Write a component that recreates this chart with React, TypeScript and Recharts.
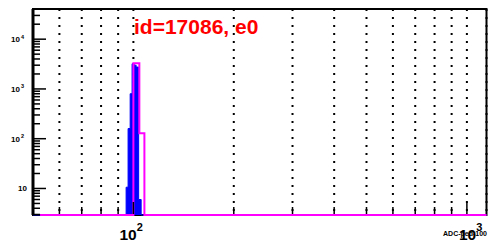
import React from 'react';
import {
  ComposedChart,
  Area,
  Line,
  XAxis,
  YAxis,
  CartesianGrid,
  ReferenceArea,
} from 'recharts';

// x range of the histogram frame (ADC - ped - 100, log axis)
const xRange = [50, 1145];
// y range of the frame (counts, log axis)
const yRange = [2.93, 40400];

// blue filled histogram: bin low edges and contents
const blueEdges = [50, 95.1, 96.4, 97.8, 99.1, 100.5, 101.9, 103.7, 105.5, 1145];
const blueCounts = [2.93, 10.6, 160, 800, 3200, 3000, 2750, 6, 2.93, 2.93];

// magenta outline histogram
const magentaEdges = [52.5, 100, 104.2, 107.9, 1145];
const magentaCounts = [2.93, 3300, 129, 2.93, 2.93];

const xTicks = [60, 70, 80, 90, 100, 200, 300, 400, 500, 600, 700, 800, 900, 1000];
const xLabels: { [k: number]: string } = { 100: '2', 1000: '3' };

const yTicks = [
  3, 4, 5, 6, 7, 8, 9,
  10, 20, 30, 40, 50, 60, 70, 80, 90,
  100, 200, 300, 400, 500, 600, 700, 800, 900,
  1000, 2000, 3000, 4000, 5000, 6000, 7000, 8000, 9000,
  10000, 20000, 30000, 40000,
];
const yLabels: { [k: number]: string } = { 10: '', 100: '2', 1000: '3', 10000: '4' };

const blueData = blueEdges.map((x, i) => ({ x, y: blueCounts[i] }));
const magentaData = magentaEdges.map((x, i) => ({ x, y: magentaCounts[i] }));

const FONT = '"Liberation Sans", Arial, Helvetica, sans-serif';

function YTick(props: any) {
  const { x, y, payload } = props;
  const v = payload.value;
  const major = v in yLabels;
  const len = major ? 13 : 7;
  return (
    <g>
      <line x1={x} x2={x + len} y1={y} y2={y} stroke="#000" strokeWidth={1.5} />
      {major && v === 10 && (
        <text x={27} y={y + 2.8} fontSize={8} fontWeight="bold" fontFamily={FONT} textAnchor="end" fill="#000">
          10
        </text>
      )}
      {major && v !== 10 && (
        <text x={20} y={y + 2.8} fontSize={8} fontWeight="bold" fontFamily={FONT} textAnchor="end" fill="#000">
          10
        </text>
      )}
      {major && v !== 10 && (
        <text x={21} y={y - 0.5} fontSize={5.5} fontWeight="bold" fontFamily={FONT} fill="#000">
          {yLabels[v]}
        </text>
      )}
    </g>
  );
}

function XTick(props: any) {
  const { x, y, payload } = props;
  const v = payload.value;
  const major = v in xLabels;
  const len = major ? 12 : 7;
  const shift = v === 1000 ? 6 : 0;
  return (
    <g>
      <line x1={x} x2={x} y1={y - 1} y2={y - 1 - len} stroke="#000" strokeWidth={1.5} />
      {major && (
        <text x={x + shift - 14} y={y + 25} fontSize={15.5} fontWeight="bold" fontFamily={FONT} fill="#000">
          10
          <tspan fontSize={11} dy={-9}>{xLabels[v]}</tspan>
        </text>
      )}
    </g>
  );
}

export default function App() {
  return (
    <div style={{ position: 'absolute', left: 0, top: 0, width: 489, height: 243, background: '#fff' }}>
      <ComposedChart
        width={489}
        height={243}
        margin={{ top: 9, right: 2.5, bottom: 0, left: 0 }}
      >
        <CartesianGrid
          horizontal={false}
          stroke="#000"
          strokeWidth={2}
          strokeDasharray="2 6"
        />
        <XAxis
          type="number"
          dataKey="x"
          scale="log"
          domain={xRange}
          ticks={xTicks}
          interval={0}
          height={28}
          tickSize={0}
          tickMargin={0}
          tickLine={false}
          axisLine={false}
          tick={<XTick />}
        />
        <YAxis
          type="number"
          dataKey="y"
          scale="log"
          domain={yRange}
          ticks={yTicks}
          interval={0}
          width={33}
          tickSize={0}
          tickMargin={0}
          tickLine={false}
          axisLine={{ stroke: '#000', strokeWidth: 3 }}
          tick={<YTick />}
        />
        <ReferenceArea
          x1={xRange[0]}
          x2={xRange[1]}
          y1={yRange[0]}
          y2={yRange[1]}
          fill="none"
          fillOpacity={0}
          stroke="#000"
          strokeWidth={2}
        />
        <Area
          data={blueData}
          dataKey="y"
          type="stepAfter"
          stroke="#0000ff"
          strokeWidth={1}
          fill="#0000ff"
          fillOpacity={1}
          dot={false}
          activeDot={false}
          isAnimationActive={false}
        />
        <Line
          data={magentaData}
          dataKey="y"
          type="stepAfter"
          stroke="#ff00ff"
          strokeWidth={2}
          dot={false}
          activeDot={false}
          isAnimationActive={false}
        />
      </ComposedChart>
      <svg
        width={489}
        height={243}
        style={{ position: 'absolute', left: 0, top: 0, pointerEvents: 'none' }}
      >
        <text x={134} y={34} fontSize={21} fontWeight="bold" fontFamily={FONT} fill="#ff0000">
          id=17086, e0
        </text>
        <text x={487} y={235.5} fontSize={7} fontWeight="bold" fontFamily={FONT} textAnchor="end" fill="#000">
          ADC-ped-100
        </text>
      </svg>
    </div>
  );
}
